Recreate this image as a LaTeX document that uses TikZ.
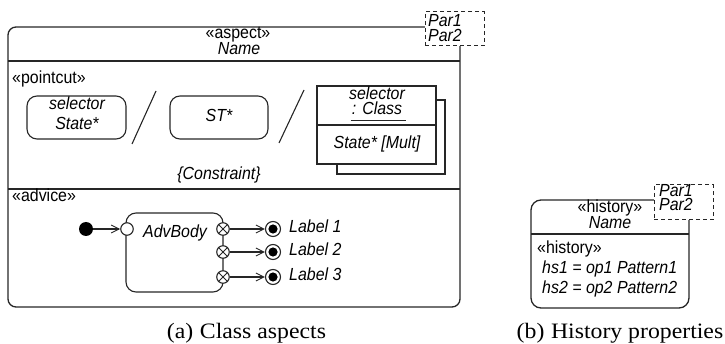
\documentclass[tikz,border=0pt]{standalone}
\usepackage{fontspec}
\setmainfont{Liberation Serif}
\newfontfamily\umlfont[FakeStretch=0.91]{Liberation Sans}
\newfontfamily\capfont[FakeStretch=1.08]{Liberation Serif}
\usetikzlibrary{arrows.meta}

\begin{document}
\begin{tikzpicture}[x=1pt,y=-1pt,
  ln/.style={draw=black!85, line width=1.3pt},
  thin ln/.style={draw=black!85, line width=1.1pt},
  txt/.style={font=\umlfont\fontsize{17.5}{17.5}\selectfont, inner sep=0pt, anchor=base},
  itxt/.style={font=\umlfont\itshape\fontsize{17.5}{17.5}\selectfont, inner sep=0pt, anchor=base},
  statebox/.style={thin ln, rounded corners=10pt, minimum width=#1, inner sep=0pt},
  parbox/.style={draw=black!85, line width=1pt, dash pattern=on 4pt off 3pt, fill=white, rectangle, inner sep=0pt},
  flow/.style={thin ln, -{Straight Barb[length=8pt,width=8pt,line width=0.9pt]}},
  caption/.style={font=\capfont\fontsize{22}{22}\selectfont, inner sep=0pt, anchor=base}]

\useasboundingbox (0,0) rectangle (725,344);

% ---------- (a) class aspect ----------
\draw[ln, rounded corners=8pt] (8,27) rectangle (460,307);
\draw[ln] (8,61) -- (460,61);
\draw[ln] (8,189) -- (460,189);

\node[parbox, minimum width=59pt, minimum height=34pt] (parA) at (454.5,29) {};
\node[itxt, anchor=base west] (parA1) at (428,27) {Par1};
\node[itxt, anchor=base west] (parA2) at (428,41.5) {Par2};

\node[txt]  (aspSt)   at (238,39) {«aspect»};
\node[itxt] (aspName) at (239,55) {Name};

% pointcut compartment
\node[txt, anchor=base west] (pcSt) at (12,84) {«pointcut»};

\node[statebox=99pt, minimum height=43pt] (sel) at (76.5,117.5) {};
\node[itxt] (selA) at (77,110) {selector};
\node[itxt] (selB) at (77,130) {State*};

\node[statebox=98pt, minimum height=43pt] (st) at (219,117.5) {};
\node[itxt] (stT) at (219,122) {ST*};

\draw[thin ln] (156,91) -- (132,144);
\draw[thin ln] (304,90) -- (279,143);

% class selector with stacked shadow
\node[thin ln, fill=white, rectangle, minimum width=108pt, minimum height=74pt, inner sep=0pt] (clsSh) at (391,137) {};
\node[thin ln, fill=white, rectangle, minimum width=119pt, minimum height=78pt, inner sep=0pt] (cls) at (376.5,125) {};
\draw[thin ln] (cls.west) -- (cls.east);
\node[itxt] (clsA) at (377,99.5) {selector};
\node[itxt] (clsB) at (377,115) {: Class};
\draw[line width=0.9pt, black!85] ([yshift=-5pt,xshift=-1pt]clsB.base west) -- ([yshift=-5pt,xshift=4pt]clsB.base east);
\node[itxt] (clsC) at (377,149) {State* [Mult]};

\node[itxt] (constr) at (219,180) {\{Constraint\}};

% advice compartment
\node[txt, anchor=base west] (advSt) at (12,202) {«advice»};

\node[statebox=97pt, minimum height=79pt] (adv) at (174.5,252.5) {};
\node[itxt] (advT) at (175,238) {AdvBody};

\node[circle, fill=black, minimum size=14pt, inner sep=0pt] (init) at (86,229) {};
\node[circle, thin ln, fill=white, minimum size=12.5pt, inner sep=0pt] (entry) at (127,229) {};
\draw[flow] (init) -- (entry);

\foreach \i/\y in {1/229, 2/252, 3/277} {
  \node[circle, thin ln, fill=white, minimum size=12.5pt, inner sep=0pt] (ex\i) at (223,\y) {};
  \draw[line width=0.9pt, black!85] (ex\i.north east) -- (ex\i.south west)
                                    (ex\i.north west) -- (ex\i.south east);
  \node[circle, thin ln, fill=white, minimum size=15pt, inner sep=0pt] (fin\i) at (273,\y) {};
  \fill[black] (fin\i.center) circle (4.6pt);
  \draw[flow] (ex\i) -- (fin\i);
  \node[itxt, anchor=base west] (lab\i) at (289,\y+4) {Label \i};
}

\node[caption] (capA) at (246.5,338) {(a)\hspace{0.3em}Class aspects};

% ---------- (b) history properties ----------
\draw[ln, rounded corners=10pt] (610,308) -- (531,308) -- (531,200) -- (689,200) -- (689,308) -- cycle;
\draw[ln] (531,234) -- (689,234);

\node[parbox, minimum width=59pt, minimum height=35pt] (parB) at (683.5,202.5) {};
\node[itxt, anchor=base west] (parB1) at (659,196.5) {Par1};
\node[itxt, anchor=base west] (parB2) at (659,211) {Par2};

\node[txt]  (hisSt)   at (610,213) {«history»};
\node[itxt] (hisName) at (610,229) {Name};

\node[txt,  anchor=base west] (hisSt2) at (537,254) {«history»};
\node[itxt, anchor=base west] (hs1) at (542,274) {hs1 = op1 Pattern1};
\node[itxt, anchor=base west] (hs2) at (542,294) {hs2 = op2 Pattern2};

\node[caption] (capB) at (620,338) {(b)\hspace{0.3em}History properties};

\end{tikzpicture}
\end{document}
